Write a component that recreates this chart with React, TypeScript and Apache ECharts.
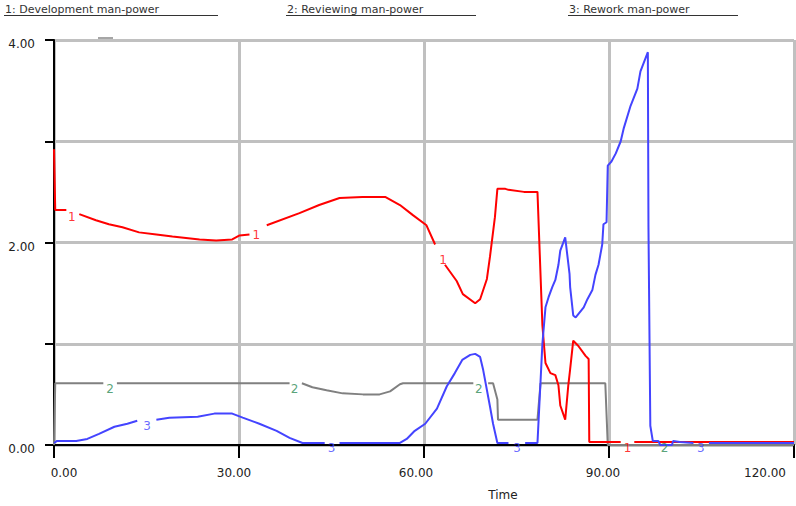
import React, { useEffect, useRef } from "react";
import * as echarts from "echarts";

// ---------- data ----------
const legendTitles = ["1: Development man-power", "2: Reviewing man-power", "3: Rework man-power"];
const xTickLabels = ["0.00", "30.00", "60.00", "90.00", "120.00"];
const yTickLabels = ["0.00", "", "2.00", "", "4.00"];

// Series 1: Development man-power (null = gap around the line marker)
const devT = [0, 0.2, 2.0, 2.5, 4.1, 6.8, 8.9, 11.1, 13.8, 16.6, 19.2, 23.6, 26.3, 28.9, 30.1, 31.7, 33.0, 34.5, 39.8, 43.0, 46.3, 50.0, 53.7, 56.1, 58.2, 60.4, 61.8, 62.5, 63.4, 65.3, 66.3, 68.3, 69.1, 70.2, 70.7, 71.5, 71.9, 73.2, 73.7, 76.2, 78.4, 79.2, 79.7, 80.5, 81.3, 81.8, 82.1, 82.9, 83.4, 83.7, 84.2, 85.0, 86.2, 86.7, 86.8, 90.0, 91.9, 93.0, 94.1, 120];
const devV = [2.92, 2.32, 2.32, null, 2.28, 2.22, 2.18, 2.15, 2.1, 2.08, 2.06, 2.03, 2.02, 2.03, 2.07, 2.08, null, 2.17, 2.29, 2.37, 2.44, 2.45, 2.45, 2.37, 2.27, 2.17, 1.98, null, 1.78, 1.62, 1.49, 1.4, 1.44, 1.64, 1.86, 2.25, 2.53, 2.53, 2.52, 2.5, 2.5, 1.18, 0.81, 0.71, 0.69, 0.59, 0.39, 0.25, 0.59, 0.75, 1.03, 0.98, 0.88, 0.85, 0.03, 0.03, 0.03, null, 0.03, 0.03];

// Series 2: Reviewing man-power
const revT = [0, 0.2, 8.0, 9.0, 10.2, 38.2, 39.0, 40.2, 41.9, 44.2, 46.8, 50.1, 52.8, 54.5, 56.1, 56.6, 68.0, 69.0, 70.4, 71.2, 71.9, 72.0, 78.4, 78.9, 89.4, 89.8, 120];
const revV = [0, 0.61, 0.61, null, 0.61, 0.61, null, 0.61, 0.57, 0.54, 0.51, 0.5, 0.5, 0.53, 0.6, 0.61, 0.61, null, 0.61, 0.61, 0.45, 0.25, 0.25, 0.61, 0.61, 0, 0];

// Series 3: Rework man-power
const rewT = [0, 0.5, 3.6, 5.4, 7.3, 9.8, 11.9, 13.5, 15.0, 16.6, 18.7, 23.3, 26.0, 28.9, 30.6, 33.3, 36.1, 38.2, 40.3, 43.9, 45.0, 46.3, 56.1, 57.2, 58.5, 60.2, 62.1, 63.7, 65.0, 66.2, 67.5, 68.3, 69.1, 69.6, 70.7, 71.2, 71.9, 73.7, 75.0, 76.4, 78.4, 79.2, 79.7, 80.2, 80.8, 81.3, 81.8, 82.1, 82.9, 83.6, 83.7, 84.2, 84.6, 85.9, 86.5, 87.3, 87.8, 88.3, 88.9, 89.1, 89.6, 89.8, 90.4, 91.1, 91.9, 92.4, 93.5, 94.6, 95.1, 96.3, 96.4, 96.7, 97.1, 98.0, 98.3, 100.2, 100.4, 101.5, 103.7, 105.0, 106.2, 120];
const rewV = [0.02, 0.04, 0.04, 0.06, 0.11, 0.18, 0.21, 0.24, null, 0.25, 0.27, 0.28, 0.31, 0.31, 0.27, 0.21, 0.14, 0.07, 0.02, 0.02, null, 0.02, 0.02, 0.06, 0.14, 0.21, 0.36, 0.58, 0.71, 0.84, 0.89, 0.9, 0.87, 0.74, 0.38, 0.21, 0.02, 0.02, null, 0.02, 0.02, 1.0, 1.36, 1.46, 1.56, 1.63, 1.78, 1.92, 2.05, 1.69, 1.56, 1.28, 1.26, 1.36, 1.44, 1.53, 1.68, 1.78, 1.98, 2.18, 2.2, 2.76, 2.8, 2.88, 3.0, 3.13, 3.35, 3.52, 3.69, 3.88, 2.15, 0.19, 0.04, 0.04, 0.0, 0.0, 0.04, 0.03, 0.02, null, 0.02, 0.02];

// Line-number markers along each curve
const markT1 = [2.9, 32.8, 63.1, 93.0];
const markV1 = [2.25, 2.07, 1.83, -0.03];
const markT2 = [9.1, 39.0, 68.9, 99.0];
const markV2 = [0.55, 0.55, 0.55, -0.03];
const markT3 = [15.1, 45.0, 75.1, 104.9];
const markV3 = [0.19, -0.03, -0.03, -0.03];

const FONT = "DejaVu Sans";
const RED = "#ff0000";
const GRAY = "#808080";
const BLUE = "#4444ff";
const GREEN = "#2e8b57";

const toLine = (t: number[], v: (number | null)[]) => t.map((x, i) => [x, v[i] === null ? "-" : v[i]]);
const toMarks = (t: number[], v: number[]) => t.map((x, i) => [x, v[i]]);

const xLabelRich: Record<string, any> = {
  a0: { padding: [0, 0, 0, 20] },
  a1: { padding: [0, 10, 0, 0] },
  a2: { padding: [0, 16, 0, 0] },
  a3: { padding: [0, 12, 0, 0] },
  a4: { padding: [0, 58, 0, 0] },
};

export default function App() {
  const ref = useRef<HTMLDivElement>(null);
  useEffect(() => {
    document.body.style.margin = "0";
    if (!ref.current) return;
    const chart = echarts.init(ref.current, null, { renderer: "svg" });
    const markSeries = (name: string, t: number[], v: number[], color: string, txt: string) => ({
      name,
      type: "scatter",
      clip: false,
      z: 5,
      symbolSize: 1,
      itemStyle: { color: "transparent" },
      data: toMarks(t, v),
      label: {
        show: true,
        position: "inside",
        formatter: () => txt,
        color,
        fontFamily: FONT,
        fontSize: 12,
      },
      silent: true,
    });
    const legendGraphics: any[] = [];
    const lx = [5, 287, 569];
    const ux = [218, 476, 738];
    legendTitles.forEach((title, i) => {
      legendGraphics.push({
        type: "text",
        left: lx[i],
        top: 4,
        style: { text: title, fill: "#333", font: `11px ${FONT}` },
      });
      legendGraphics.push({
        type: "line",
        shape: { x1: lx[i] - 1, y1: 15.5, x2: ux[i], y2: 15.5 },
        style: { stroke: "#333", lineWidth: 1 },
      });
    });
    legendGraphics.push({
      type: "line",
      shape: { x1: 98, y1: 38, x2: 113, y2: 38 },
      style: { stroke: "#888", lineWidth: 1.5 },
    });

    chart.setOption({
      animation: false,
      backgroundColor: "#ffffff",
      textStyle: { fontFamily: FONT },
      grid: { left: 54, right: 2, top: 40, bottom: 57 },
      graphic: legendGraphics,
      xAxis: {
        type: "value",
        min: 0,
        max: 120,
        interval: 30,
        name: "Time",
        nameLocation: "middle",
        nameGap: 44,
        nameTextStyle: { color: "#222", fontSize: 12, fontFamily: FONT, padding: [0, 0, 0, 158] },
        axisLine: { show: true, onZero: false, lineStyle: { color: "#000", width: 2 } },
        axisTick: { show: true, length: 13, lineStyle: { color: "#000", width: 2 } },
        axisLabel: {
          margin: 22,
          color: "#222",
          fontSize: 12,
          fontFamily: FONT,
          showMinLabel: true,
          showMaxLabel: true,
          hideOverlap: false,
          formatter: (val: number) => {
            const i = Math.round(val / 30);
            return `{a${i}|${xTickLabels[i] ?? ""}}`;
          },
          rich: xLabelRich,
        },
        splitLine: { show: true, lineStyle: { color: "#c0c0c0", width: 3 } },
      },
      yAxis: {
        type: "value",
        min: 0,
        max: 4,
        interval: 1,
        axisLine: { show: true, onZero: false, lineStyle: { color: "#000", width: 2 } },
        axisTick: { show: true, length: 9, lineStyle: { color: "#000", width: 2 } },
        axisLabel: {
          margin: 19,
          color: "#222",
          fontSize: 12,
          fontFamily: FONT,
          showMinLabel: true,
          showMaxLabel: true,
          formatter: (val: number) => {
            const s = yTickLabels[Math.round(val)] ?? "";
            return s ? `{b|${s}}` : "";
          },
          rich: { b: { padding: [8, 0, 0, 0] } },
        },
        splitLine: { show: true, lineStyle: { color: "#c0c0c0", width: 3 } },
      },
      series: [
        {
          name: legendTitles[1],
          type: "line",
          data: toLine(revT, revV),
          showSymbol: false,
          connectNulls: false,
          lineStyle: { color: GRAY, width: 2 },
          itemStyle: { color: GRAY },
          z: 3,
        },
        {
          name: legendTitles[0],
          type: "line",
          data: toLine(devT, devV),
          showSymbol: false,
          connectNulls: false,
          lineStyle: { color: RED, width: 2 },
          itemStyle: { color: RED },
          z: 3,
        },
        {
          name: legendTitles[2],
          type: "line",
          data: toLine(rewT, rewV),
          showSymbol: false,
          connectNulls: false,
          lineStyle: { color: BLUE, width: 2 },
          itemStyle: { color: BLUE },
          z: 4,
        },
        markSeries("m1", markT1, markV1, RED, "1"),
        markSeries("m2", markT2, markV2, GREEN, "2"),
        markSeries("m3", markT3, markV3, BLUE, "3"),
      ],
    });
    return () => chart.dispose();
  }, []);
  return <div ref={ref} style={{ width: 796, height: 506 }} />;
}
